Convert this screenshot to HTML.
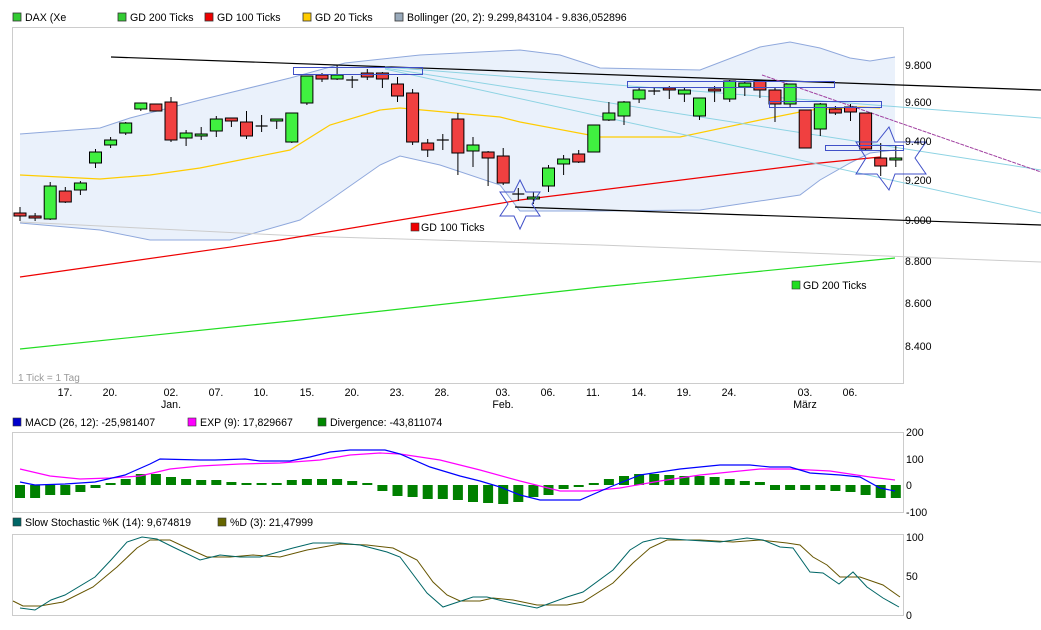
<!DOCTYPE html>
<html><head><meta charset="utf-8"><style>
body{margin:0;background:#fff;width:1041px;height:630px;overflow:hidden;font-family:"Liberation Sans",sans-serif}
svg{display:block}
text{font-family:"Liberation Sans",sans-serif;font-size:10.6px;fill:#000}
</style></head><body>
<svg id="s" width="1041" height="630" viewBox="0 0 1041 630" xmlns="http://www.w3.org/2000/svg">
<g>
<rect x="13" y="13" width="8" height="8" fill="#3c3" stroke="#333" stroke-width="0.8"/><text x="25" y="21">DAX (Xe</text>
<rect x="118" y="13" width="8" height="8" fill="#3c3" stroke="#333" stroke-width="0.8"/><text x="130" y="21">GD 200 Ticks</text>
<rect x="205" y="13" width="8" height="8" fill="#e00" stroke="#333" stroke-width="0.8"/><text x="217" y="21">GD 100 Ticks</text>
<rect x="303" y="13" width="8" height="8" fill="#fc0" stroke="#333" stroke-width="0.8"/><text x="315" y="21">GD 20 Ticks</text>
<rect x="395" y="13" width="8" height="8" fill="#9ab" stroke="#333" stroke-width="0.8"/><text x="407" y="21">Bollinger (20, 2): 9.299,843104 - 9.836,052896</text>
</g>
<rect x="12.5" y="27.5" width="891" height="356" fill="#fff" stroke="#ccc"/>
<path d="M20,134 L100,128 L130,118 L200,100 L290,78 L345,63 L420,55 L520,50 L560,55 L600,68 L700,70 L760,47 L790,42 L820,48 L850,58 L870,61 L895,57 L895,150 L870,153 L850,163 L820,180 L800,195 L700,210 L600,211 L520,211 L500,185 L440,165 L400,156 L380,165 L330,200 L300,220 L230,240 L150,240 L100,230 L20,223 Z" fill="#eaf1fb" stroke="none"/>
<polyline points="20,134 100,128 130,118 200,100 290,78 345,63 420,55 520,50 560,55 600,68 700,70 760,47 790,42 820,48 850,58 870,61 895,57" fill="none" stroke="#8fa8dc" stroke-width="1"/>
<polyline points="20,223 100,230 150,240 230,240 300,220 330,200 380,165 400,156 440,165 500,185 520,211 600,211 700,210 800,195 820,180 850,163 870,153 895,150" fill="none" stroke="#8fa8dc" stroke-width="1"/>
<polyline points="20,222 300,236 600,245 1041,262" fill="none" stroke="#ccc" stroke-width="1"/>
<polyline points="20,349 300,320 600,287 895,258" fill="none" stroke="#2d2" stroke-width="1.2"/>
<polyline points="20,277 280,240 520,200 810,164 880,157" fill="none" stroke="#e00" stroke-width="1.2"/>
<polyline points="20,175 100,179 150,175 200,168 290,150 330,125 380,110 400,108 500,117 520,122 600,137 680,137 760,120 810,110 860,107 880,108" fill="none" stroke="#fc0" stroke-width="1.2"/>
<polyline points="111,57 1041,90" fill="none" stroke="#000" stroke-width="1.2"/>
<polyline points="515,207 1041,225" fill="none" stroke="#000" stroke-width="1.2"/>
<g stroke="#8dd3e3" stroke-width="1" fill="none">
<line x1="385" y1="67" x2="1041" y2="118"/>
<line x1="385" y1="68" x2="1041" y2="170"/>
<line x1="385" y1="69" x2="1041" y2="213"/>
</g>
<line x1="762" y1="75" x2="1041" y2="172" stroke="#a040a0" stroke-width="1" stroke-dasharray="4,1"/>
<g id="candles"></g>
<g fill="none" stroke="#4050c8" stroke-width="1">
<rect x="293.5" y="67.5" width="129" height="7"/>
<rect x="627.5" y="81.5" width="207" height="6"/>
<rect x="769.5" y="101.5" width="112" height="6"/>
<rect x="825.5" y="145.5" width="78" height="5"/>
<polygon points="520,180 526,192 540,192 532,204 540,216 526,216 520,229 514,216 500,216 508,204 500,192 514,192"/>
<polygon points="889,127 895,142 926,142 915,158 926,174 895,174 889,190 877,174 856,174 866,158 856,142 877,142"/>
</g>
<rect x="411" y="223" width="8" height="8" fill="#e00" stroke="#333" stroke-width="0.6"/><text x="421" y="231">GD 100 Ticks</text>
<rect x="792" y="281" width="8" height="8" fill="#2d2" stroke="#333" stroke-width="0.6"/><text x="803" y="289">GD 200 Ticks</text>
<text x="18" y="381" style="fill:#999;font-size:10px">1 Tick = 1 Tag</text>
<g>
<text x="905" y="69">9.800</text><text x="905" y="106">9.600</text><text x="905" y="145">9.400</text><text x="905" y="184">9.200</text><text x="905" y="224">9.000</text><text x="905" y="265">8.800</text><text x="905" y="307">8.600</text><text x="905" y="350">8.400</text>
</g>
<g text-anchor="middle">
<text x="65" y="396">17.</text><text x="110" y="396">20.</text><text x="171" y="396">02.</text><text x="216" y="396">07.</text><text x="261" y="396">10.</text><text x="307" y="396">15.</text><text x="352" y="396">20.</text><text x="397" y="396">23.</text><text x="442" y="396">28.</text><text x="503" y="396">03.</text><text x="548" y="396">06.</text><text x="593" y="396">11.</text><text x="639" y="396">14.</text><text x="684" y="396">19.</text><text x="729" y="396">24.</text><text x="805" y="396">03.</text><text x="850" y="396">06.</text>
<text x="171" y="408">Jan.</text><text x="503" y="408">Feb.</text><text x="805" y="408">März</text>
</g>
<rect x="13" y="418" width="8" height="8" fill="#00c" stroke="#333" stroke-width="0.6"/><text x="25" y="426">MACD (26, 12): -25,981407</text>
<rect x="188" y="418" width="8" height="8" fill="#f0f" stroke="#333" stroke-width="0.6"/><text x="200" y="426">EXP (9): 17,829667</text>
<rect x="318" y="418" width="8" height="8" fill="#080" stroke="#333" stroke-width="0.6"/><text x="330" y="426">Divergence: -43,811074</text>
<rect x="12.5" y="432.5" width="891" height="80" fill="#fff" stroke="#ccc"/>
<g id="bars"></g>
<polyline points="20,469 50,476 80,479 110,478 140,476 170,469 200,466 240,464 280,463 320,460 350,455 380,453 400,454 440,460 480,470 520,481 560,491 590,491 620,488 660,481 700,475 760,469 790,469 830,471 870,477 895,480" fill="none" stroke="#f0f" stroke-width="1.2"/>
<polyline points="20,482 35,485 65,484 95,482 125,475 150,464 160,459 200,460 215,460 245,459 260,461 290,461 310,457 330,452 350,450 385,450 400,454 430,467 460,476 480,481 500,487 520,495 540,500 580,500 610,487 640,475 680,469 720,465 750,465 770,467 790,467 810,473 840,475 860,477 880,488 895,491" fill="none" stroke="#00f" stroke-width="1.2"/>
<text x="906" y="436">200</text><text x="906" y="463">100</text><text x="906" y="489">0</text><text x="906" y="516">-100</text>
<rect x="13" y="518" width="8" height="8" fill="#066" stroke="#333" stroke-width="0.6"/><text x="25" y="526">Slow Stochastic %K (14): 9,674819</text>
<rect x="218" y="518" width="8" height="8" fill="#660" stroke="#333" stroke-width="0.6"/><text x="230" y="526">%D (3): 21,47999</text>
<rect x="12.5" y="534.5" width="891" height="81" fill="#fff" stroke="#ccc"/>
<polyline points="13,601 23,606 40,606 63,602 93,587 117,567 137,548 150,540 170,540 187,548 207,557 217,557 230,557 253,555 280,557 307,550 340,544 367,545 393,548 417,560 433,582 447,595 460,601 480,601 493,598 513,600 537,605 567,605 583,602 613,583 633,563 650,548 667,540 700,540 733,542 760,540 787,543 800,545 813,557 827,565 840,577 860,577 883,585 900,597" fill="none" stroke="#665500" stroke-width="1"/>
<polyline points="20,608 35,610 51,600 65,595 95,577 111,560 127,542 142,537 157,539 173,547 200,560 220,555 240,557 260,557 293,548 313,543 340,543 360,545 387,552 400,557 427,593 443,607 473,597 487,597 507,602 537,608 567,597 583,592 613,570 630,550 643,542 660,538 687,540 720,542 747,538 763,540 780,547 793,548 810,572 823,573 839,584 853,572 867,587 883,598 899,607" fill="none" stroke="#006666" stroke-width="1"/>
<text x="906" y="541">100</text><text x="906" y="580">50</text><text x="906" y="619">0</text>
</svg>
<script>
var C=[[213,216,207,221,'r'],[216,218,213,221,'r'],[186,219,182,220,'g'],[191,202,187,203,'r'],[183,190,181,195,'g'],[152,163,149,168,'g'],[140,145,137,148,'g'],[123,133,122,135,'g'],[103,109,103,111,'g'],[104,111,104,111,'r'],[102,140,97,142,'r'],[133,138,130,146,'g'],[134,136,127,140,'g'],[119,131,116,137,'g'],[118,121,118,127,'r'],[122,136,111,139,'r'],[126,126,115,132,'x'],[119,121,119,129,'g'],[113,142,113,143,'g'],[76,103,76,105,'g'],[75,79,73,82,'r'],[75,79,65,80,'g'],[80,80,76,88,'x'],[73,77,69,80,'r'],[73,79,72,88,'r'],[84,96,77,102,'r'],[93,142,89,145,'r'],[143,150,139,157,'r'],[140,140,134,150,'x'],[119,153,113,175,'r'],[145,151,137,167,'g'],[152,158,151,186,'r'],[156,183,148,185,'r'],[194,194,188,201,'x'],[197,199,192,204,'g'],[168,186,165,192,'g'],[159,164,155,175,'g'],[154,162,150,163,'r'],[125,152,125,152,'g'],[113,120,102,121,'g'],[102,116,101,125,'g'],[90,99,87,103,'g'],[91,91,88,95,'x'],[88,90,86,99,'r'],[90,94,87,102,'g'],[98,116,98,120,'g'],[89,91,86,102,'r'],[81,99,80,102,'g'],[83,87,81,96,'g'],[81,90,80,98,'r'],[90,104,88,122,'r'],[84,104,84,108,'g'],[110,148,110,148,'r'],[104,129,103,136,'g'],[109,113,106,115,'r'],[107,112,104,121,'r'],[113,149,113,150,'r'],[158,166,143,176,'r'],[158,160,146,167,'g']];
var B=[-13,-13,-10,-10,-7,-3,2,6,11,11,8,6,5,5,3,2,2,2,5,6,6,6,4,2,-6,-11,-12,-14,-14,-15,-17,-18,-19,-17,-12,-10,-4,-2,2,6,9,11,11,10,9,9,8,6,4,3,-5,-5,-5,-5,-6,-7,-10,-13,-13];
var s='',b='';
for(var i=0;i<C.length;i++){var x=20+i*15.1,c=C[i];
s+='<line x1="'+x+'" y1="'+c[2]+'" x2="'+x+'" y2="'+c[3]+'" stroke="#000" stroke-width="1"/>';
if(c[4]=='x'){s+='<line x1="'+(x-6)+'" y1="'+c[0]+'" x2="'+(x+6)+'" y2="'+c[0]+'" stroke="#000" stroke-width="1.2"/>';}
else{var h=Math.max(c[1]-c[0],2);s+='<rect x="'+(x-6)+'" y="'+c[0]+'" width="12" height="'+h+'" fill="'+(c[4]=='g'?'#40f040':'#f04040')+'" stroke="#000" stroke-width="1"/>';}
var v=B[i]*1.0,y=v>0?485-v:485;b+='<rect x="'+(x-5)+'" y="'+y+'" width="10" height="'+Math.max(Math.abs(v),1.5)+'" fill="#008000"/>';}
document.getElementById('candles').innerHTML=s;document.getElementById('bars').innerHTML=b;
</script>
</body></html>
